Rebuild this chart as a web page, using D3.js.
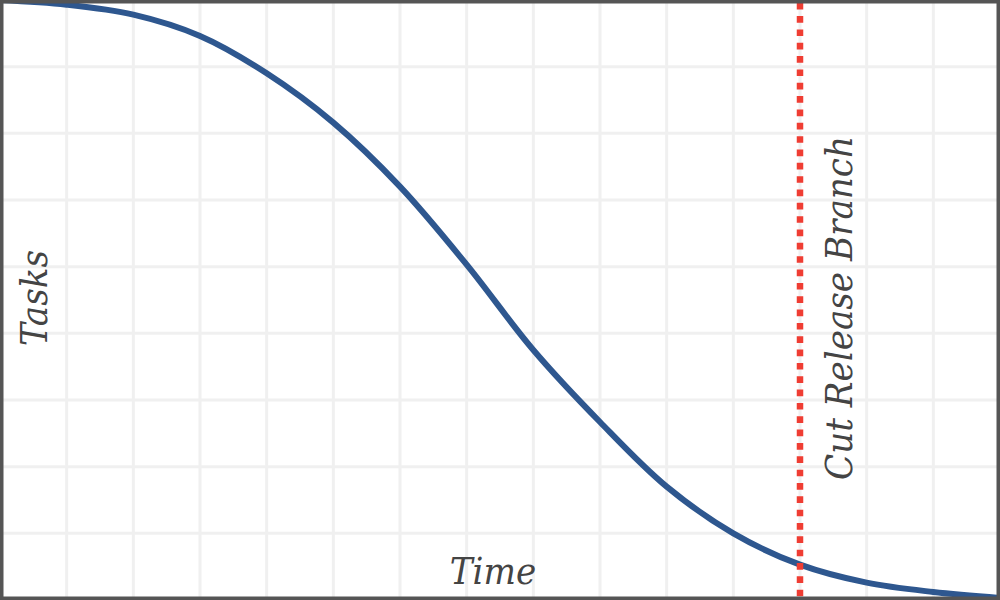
<!DOCTYPE html>
<html>
<head>
<meta charset="utf-8">
<script src="https://cdn.jsdelivr.net/npm/d3@7"></script>
<style>
  body { margin: 0; background: #fff; }
  svg { display: block; }
  .label { font-family: "DejaVu Serif Condensed", "DejaVu Serif", serif; font-style: italic; font-size: 38px; fill: #444; }
</style>
</head>
<body>
<svg width="1000" height="600"></svg>
<script>
// Time steps and remaining tasks
var time = [0, 1, 2, 3, 4, 5, 6, 7, 8, 9, 10, 11, 12, 13, 14, 15];
var tasks = [9, 8.93, 8.78, 8.46, 7.9, 7.16, 6.2, 5.03, 3.75, 2.67, 1.7, 1.0, 0.53, 0.26, 0.12, 0.03];
var cutTime = 12;
var labels = { x: "Time", y: "Tasks", cut: "Cut Release Branch" };

var svg = d3.select("svg"),
    width = +svg.attr("width"),
    height = +svg.attr("height");

var x = d3.scaleLinear().domain([0, 15]).range([0, width]);
var y = d3.scaleLinear().domain([0, 9]).range([height, 0]);

// grid
svg.append("g")
    .selectAll("line.v")
    .data(d3.range(1, 15))
    .enter().append("line")
    .attr("x1", d => x(d)).attr("x2", d => x(d))
    .attr("y1", 0).attr("y2", height)
    .attr("stroke", "#f0f0f0").attr("stroke-width", 3);

svg.append("g")
    .selectAll("line.h")
    .data(d3.range(1, 9))
    .enter().append("line")
    .attr("y1", d => y(d)).attr("y2", d => y(d))
    .attr("x1", 0).attr("x2", width)
    .attr("stroke", "#f0f0f0").attr("stroke-width", 3);

// burndown curve
var line = d3.line()
    .x(d => x(d[0]))
    .y(d => y(d[1]))
    .curve(d3.curveCatmullRom.alpha(0.5));

svg.append("path")
    .datum(time.map((t, i) => [t, tasks[i]]))
    .attr("d", line)
    .attr("fill", "none")
    .attr("stroke", "#2e578f")
    .attr("stroke-width", 6);

// release branch cut
svg.append("line")
    .attr("x1", x(cutTime)).attr("x2", x(cutTime))
    .attr("y1", 0).attr("y2", height)
    .attr("stroke", "#ef3d33")
    .attr("stroke-width", 6.5)
    .attr("stroke-dasharray", "6.67,6.67")
    .attr("stroke-dashoffset", 10.6);

// labels
svg.append("text").attr("class", "label")
    .attr("text-anchor", "middle")
    .attr("transform", "translate(47,298) rotate(-90)")
    .text(labels.y);

svg.append("text").attr("class", "label")
    .attr("text-anchor", "middle")
    .attr("x", 493).attr("y", 584)
    .text(labels.x);

svg.append("text").attr("class", "label")
    .attr("text-anchor", "middle")
    .attr("transform", "translate(" + (x(cutTime) + 52) + ",308) rotate(-90)")
    .text(labels.cut);

// frame
svg.append("rect")
    .attr("x", 0).attr("y", 0)
    .attr("width", width).attr("height", height)
    .attr("fill", "none")
    .attr("stroke", "#555")
    .attr("stroke-width", 7);
</script>
</body>
</html>
